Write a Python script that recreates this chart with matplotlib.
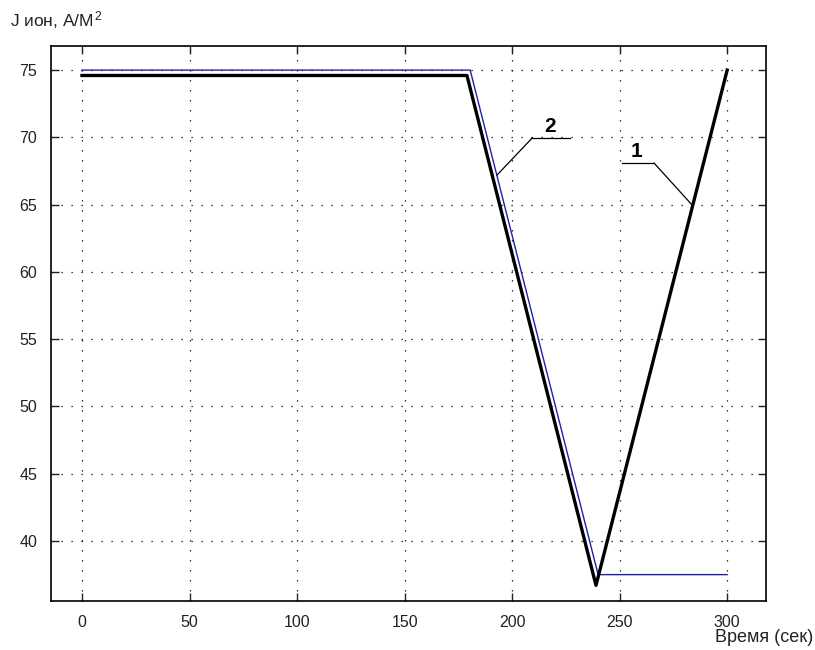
import matplotlib
matplotlib.use("Agg")
import matplotlib.pyplot as plt

plt.rcParams['font.family'] = ['Liberation Sans', 'DejaVu Sans']
plt.rcParams['mathtext.fontset'] = 'custom'
plt.rcParams['mathtext.rm'] = 'Liberation Sans'
plt.rcParams['mathtext.it'] = 'Liberation Sans'

# Data
t_curve1 = [0, 179, 239, 300]
j_curve1 = [74.6, 74.6, 36.7, 75.0]
t_curve2 = [0, 180.5, 240, 300]
j_curve2 = [75.0, 75.0, 37.5, 37.5]
xticks = [0, 50, 100, 150, 200, 250, 300]
yticks = [40, 45, 50, 55, 60, 65, 70, 75]

fig = plt.figure(figsize=(8.15, 6.5), dpi=100)
ax = fig.add_axes([0.0626, 0.0754, 0.8774, 0.8536])

ax.plot(t_curve2, j_curve2, color='#2020b0', lw=1.0, zorder=3)
ax.plot(t_curve1, j_curve1, color='black', lw=2.4, zorder=4)

ax.set_xlim(-14.4, 318.1)
ax.set_ylim(35.54, 76.78)
ax.set_xticks(xticks)
ax.set_yticks(yticks)
ax.tick_params(direction='in', length=6, width=1, top=True, right=True,
               labelsize=11.5, colors='#222222', pad=10)
ax.grid(True, color='black', linestyle=(0, (1, 7)), linewidth=0.9)
for s in ax.spines.values():
    s.set_linewidth(1.2)

# Labels
ax.plot([209.3, 227.0], [69.95, 69.95], color='black', lw=0.9, zorder=5)
ax.plot([209.3, 193.0], [69.95, 67.2], color='black', lw=0.9, zorder=5)
ax.text(217.7, 70.1, '2', fontsize=15, ha='center', va='bottom', fontweight='bold')
ax.plot([251.2, 266.0], [68.09, 68.09], color='black', lw=0.9, zorder=5)
ax.plot([266.0, 283.7], [68.09, 64.97], color='black', lw=0.9, zorder=5)
ax.text(257.7, 68.25, '1', fontsize=15, ha='center', va='bottom', fontweight='bold')

fig.text(10/815, 1 - 20/650, 'J ион, А/М$^{\\,2}$', fontsize=12.5, ha='left', va='center',
         color='#222222')
fig.text(813/815, 1 - 637/650, 'Время (сек)', fontsize=13, ha='right', va='center',
         color='#222222')

fig.savefig('out.png', dpi=100)
